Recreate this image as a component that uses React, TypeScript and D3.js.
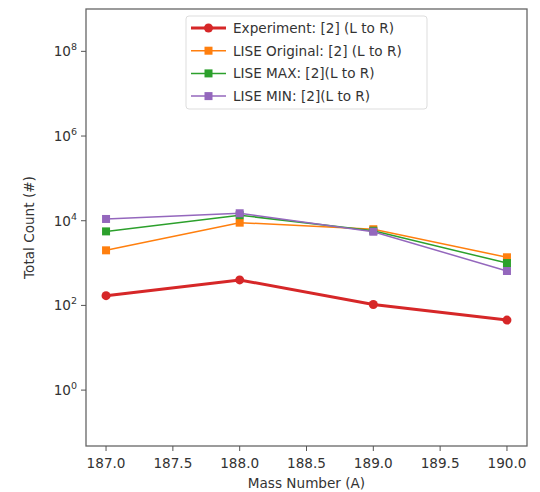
import React from 'react';
import * as d3 from 'd3';

const massNumbers = [187, 188, 189, 190];
const experiment = [170, 400, 105, 45];
const liseOriginal = [2000, 9000, 6300, 1370];
const liseMax = [5600, 13500, 5800, 1000];
const liseMin = [11000, 15000, 5500, 650];

const xTicks = [187.0, 187.5, 188.0, 188.5, 189.0, 189.5, 190.0];
const yTickExps = [0, 2, 4, 6, 8];

const seriesList = [
  { name: 'Experiment: [2] (L to R)', values: experiment, color: '#d62728', width: 3, marker: 'circle' },
  { name: 'LISE Original: [2] (L to R)', values: liseOriginal, color: '#ff7f0e', width: 1.5, marker: 'square' },
  { name: 'LISE MAX: [2](L to R)', values: liseMax, color: '#2ca02c', width: 1.5, marker: 'square' },
  { name: 'LISE MIN: [2](L to R)', values: liseMin, color: '#9467bd', width: 1.5, marker: 'square' },
];

const W = 540;
const H = 492;
const left = 86;
const right = 527;
const top = 9;
const bottom = 446;
const font = 'DejaVu Sans, sans-serif';
const fs = 13.6;

export default function App() {
  const x = d3.scaleLinear().domain([186.85, 190.15]).range([left, right]);
  const y = d3.scaleLog().domain([Math.pow(10, -1.32), Math.pow(10, 9.0)]).range([bottom, top]);
  const line = d3
    .line<number>()
    .x((_, i) => x(massNumbers[i]))
    .y((d) => y(d));

  const Marker = ({ kind, cx, cy, color }: any) =>
    kind === 'circle' ? (
      <circle cx={cx} cy={cy} r={4.5} fill={color} />
    ) : (
      <rect x={cx - 4} y={cy - 4} width={8} height={8} fill={color} />
    );

  const legX = 186;
  const legY = 16;

  return (
    <svg width={W} height={H} style={{ position: 'absolute', left: 0, top: 0, background: '#fff' }}>
      <rect x={left} y={top} width={right - left} height={bottom - top} fill="none" stroke="#666" strokeWidth={1.3} />

      {xTicks.map((t) => (
        <g key={t}>
          <line x1={x(t)} x2={x(t)} y1={bottom} y2={bottom + 5} stroke="#555" />
          <text x={x(t)} y={bottom + 22} textAnchor="middle" fontSize={fs} fontFamily={font} fill="#333">
            {t.toFixed(1)}
          </text>
        </g>
      ))}
      {yTickExps.map((e) => (
        <g key={e}>
          <line x1={left - 5} x2={left} y1={y(Math.pow(10, e))} y2={y(Math.pow(10, e))} stroke="#555" />
          <text x={left - 9} y={y(Math.pow(10, e)) + 5} textAnchor="end" fontSize={fs} fontFamily={font} fill="#333">
            10<tspan dy={-6} fontSize={9.5}>{e}</tspan>
          </text>
        </g>
      ))}

      <text x={(left + right) / 2} y={488} textAnchor="middle" fontSize={fs} fontFamily={font} fill="#333">
        Mass Number (A)
      </text>
      <text
        transform={`translate(34, ${(top + bottom) / 2}) rotate(-90)`}
        textAnchor="middle"
        fontSize={fs}
        fontFamily={font}
        fill="#333"
      >
        Total Count (#)
      </text>

      {seriesList.map((s) => (
        <g key={s.name}>
          <path d={line(s.values) || ''} fill="none" stroke={s.color} strokeWidth={s.width} />
          {s.values.map((v, i) => (
            <Marker key={i} kind={s.marker} cx={x(massNumbers[i])} cy={y(v)} color={s.color} />
          ))}
        </g>
      ))}

      <rect x={legX} y={legY} width={241} height={93} rx={3} fill="#fff" fillOpacity={0.85} stroke="#ddd" />
      {seriesList.map((s, i) => {
        const ry = legY + 12 + i * 22.7;
        return (
          <g key={s.name}>
            <line x1={legX + 5} x2={legX + 40} y1={ry} y2={ry} stroke={s.color} strokeWidth={s.width} />
            <Marker kind={s.marker} cx={legX + 22.5} cy={ry} color={s.color} />
            <text x={legX + 47} y={ry + 5} fontSize={fs} fontFamily={font} fill="#333">
              {s.name}
            </text>
          </g>
        );
      })}
    </svg>
  );
}
